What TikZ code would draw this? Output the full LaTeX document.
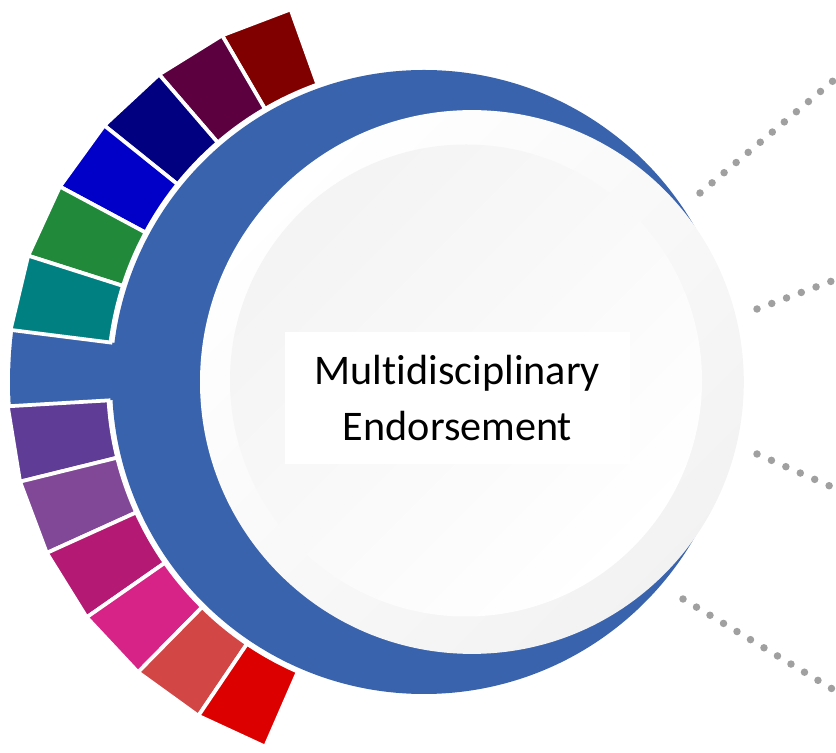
\documentclass[tikz,border=0pt]{standalone}
\usepackage{fontspec}
\setmainfont{Carlito}[Ligatures=NoCommon]
\usetikzlibrary{calc}

\definecolor{ringblue}{RGB}{58,99,173}
\definecolor{segmaroon}{RGB}{128,0,0}
\definecolor{segplum}{RGB}{92,0,64}
\definecolor{segnavy}{RGB}{0,0,128}
\definecolor{segblue}{RGB}{0,0,200}
\definecolor{seggreen}{RGB}{32,138,58}
\definecolor{segteal}{RGB}{0,128,128}
\definecolor{segpurple}{RGB}{95,60,150}
\definecolor{segviolet}{RGB}{128,72,150}
\definecolor{segmagenta}{RGB}{180,25,115}
\definecolor{segpink}{RGB}{215,35,135}
\definecolor{segcoral}{RGB}{210,70,70}
\definecolor{segred}{RGB}{220,0,0}
\definecolor{dotgray}{RGB}{160,160,160}

\begin{document}
\begin{tikzpicture}[x=0.3mm,y=0.3mm,
    seg/.style={draw=white,line width=3.2pt},
    dot line/.style={dotgray,line width=6.4pt,line cap=round,dash pattern=on 0pt off 13.45pt},
    title node/.style={align=center,fill=white,inner xsep=25.5pt,inner ysep=20.3pt,font=\fontsize{36}{47.4}\selectfont}]
    \useasboundingbox (0,0) rectangle (836,752);
    \coordinate (ring) at (424,370);
    \coordinate (disc) at (471.9,370);
    \coordinate (core) at (466,371.5);
    \fill[ringblue] (ring) circle[radius=312];
    \fill[ringblue] ($(ring)+(172.8:300)$) -- ($(ring)+(172.8:414)$) arc[start angle=172.8,end angle=183.3,radius=414] -- ($(ring)+(183.3:300)$) -- cycle;
    \foreach \k/\col in {0/segmaroon,1/segplum,2/segnavy,3/segblue,4/seggreen,5/segteal,7/segpurple,8/segviolet,9/segmagenta,10/segpink,11/segcoral,12/segred}{
        \pgfmathsetmacro\a{109.7+10.52*\k}
        \pgfmathsetmacro\b{\a+10.52}
        \pgfmathsetmacro\ra{385-32*cos(\a)}
        \pgfmathsetmacro\rb{385-32*cos(\b)}
        \filldraw[seg,fill=\col] ($(ring)+(\a:316)$) arc[start angle=\a,end angle=\b,radius=316]
            -- ($(ring)+(\b:\rb)$) -- ($(ring)+(\a:\ra)$) -- cycle;
    }
    \shade[top color=white,middle color=white,bottom color=gray!10,shading angle=45] (disc) circle[radius=271.9];
    \shade[top color=gray!9,middle color=white,bottom color=white,shading angle=45] (core) circle[radius=236];
    \node[title node] (title) at (457.5,354) {Multidisciplinary\\Endorsement};
    \coordinate (d1a) at (700,559);
    \coordinate (d1b) at (840,677);
    \coordinate (d2a) at (757,443);
    \coordinate (d2b) at (840,474);
    \coordinate (d3a) at (757,298);
    \coordinate (d3b) at (840,261.5);
    \coordinate (d4a) at (683,153);
    \coordinate (d4b) at (840,58.4);
    \draw[dot line] (d1a) -- (d1b);
    \draw[dot line] (d2a) -- (d2b);
    \draw[dot line] (d3a) -- (d3b);
    \draw[dot line] (d4a) -- (d4b);
\end{tikzpicture}
\end{document}
